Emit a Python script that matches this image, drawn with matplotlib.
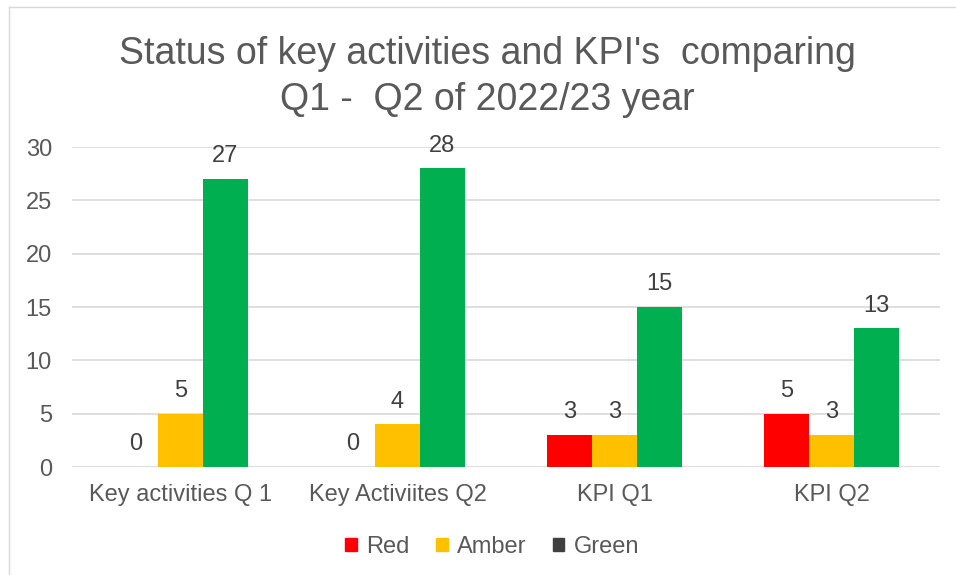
import matplotlib
matplotlib.use("Agg")
import matplotlib.pyplot as plt
import numpy as np
from matplotlib.patches import Patch

plt.rcParams['font.family'] = ['Liberation Sans', 'DejaVu Sans']

categories = ["Key activities Q 1", "Key Activiites Q2", "KPI Q1", "KPI Q2"]
red = [0, 0, 3, 5]
amber = [5, 4, 3, 3]
green = [27, 28, 15, 13]

series = [("Red", red, "#ff0000"), ("Amber", amber, "#ffc000"), ("Green", green, "#00b050")]
legend_colors = ["#ff0000", "#ffc000", "#404040"]

fig = plt.figure(figsize=(9.56, 5.75), dpi=100)
ax = fig.add_axes([72 / 956, 1 - 467 / 575, 868 / 956, 320 / 575])

x = np.arange(len(categories))
w = 0.207
for i, (name, vals, col) in enumerate(series):
    pos = x + (i - 1) * w
    ax.bar(pos, vals, width=w, color=col, zorder=3)
    for p, v in zip(pos, vals):
        ax.text(p, v + 1.1, str(v), ha="center", va="bottom", fontsize=17, color="#404040")

ax.set_xlim(-0.5, len(categories) - 0.5)
ax.set_ylim(0, 30)
ax.set_yticks(range(0, 31, 5))
ax.yaxis.grid(True, color="#d9d9d9", linewidth=1.2, zorder=0)
for s in ax.spines.values():
    s.set_visible(False)
ax.tick_params(length=0, labelsize=17, colors="#595959", pad=14.5)
ax.tick_params(axis="x", pad=12)
ax.set_xticks(x)
ax.set_xticklabels(categories)

fig.text(0.51, 1 - 77 / 575, "Status of key activities and KPI's  comparing\nQ1 -  Q2 of 2022/23 year",
         ha="center", va="center", fontsize=27, color="#595959", linespacing=1.35)

handles = [Patch(color=c, label=n) for c, (n, _, _) in zip(legend_colors, series)]
fig.legend(handles=handles, loc="center", bbox_to_anchor=(0.515, 1 - 547 / 575), ncol=3,
           frameon=False, fontsize=17, handlelength=0.5, handleheight=0.5,
           handletextpad=0.4, columnspacing=1.1, labelcolor="#595959")

# outer chart border (left and top)
fig.add_artist(plt.Line2D([9 / 956, 9 / 956], [0, 1 - 7 / 575], color="#d9d9d9", linewidth=1))
fig.add_artist(plt.Line2D([9 / 956, 1], [1 - 7 / 575, 1 - 7 / 575], color="#d9d9d9", linewidth=1))

fig.savefig("out.png", dpi=100, facecolor="white")
